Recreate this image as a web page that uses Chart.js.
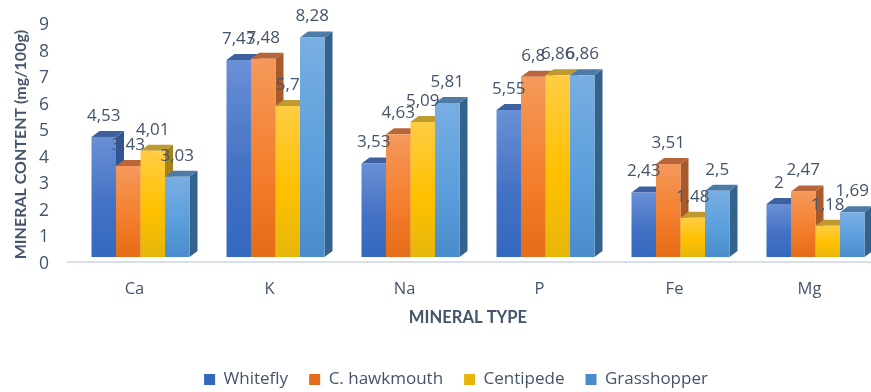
<!DOCTYPE html>
<html>
<head>
<meta charset="utf-8">
<title>Mineral content</title>
<script src="https://cdn.jsdelivr.net/npm/chart.js@4"></script>
<style>
html,body{margin:0;padding:0;background:#fff;overflow:hidden;width:871px;height:392px}
canvas{display:block}
</style>
</head>
<body>
<canvas id="c" width="883" height="392"></canvas>
<script>
const categories = ['Ca', 'K', 'Na', 'P', 'Fe', 'Mg'];
const whitefly = [4.53, 7.43, 3.53, 5.55, 2.43, 2];
const hawkmouth = [3.43, 7.48, 4.63, 6.8, 3.51, 2.47];
const centipede = [4.01, 5.7, 5.09, 6.86, 1.48, 1.18];
const grasshopper = [3.03, 8.28, 5.81, 6.86, 2.5, 1.69];
const yTitle = 'MINERAL CONTENT (mg/100g)';
const xTitle = 'MINERAL TYPE';

const TEXT = '#44546a';
const BODY_FONT = '"Open Sans", sans-serif';
const DEPTH_X = 8, DEPTH_Y = 6;

// Per-series shading: gradient stops for the front face, then the side and roof colours.
const palettes = [
  {top: '#6a90d6', mid: '#4472c4', low: '#3468bf', side: '#2f5597', roof: '#3f609f'},
  {top: '#f5995b', mid: '#f47f2e', low: '#e56c18', side: '#a85a2b', roof: '#b9653a'},
  {top: '#ffcd45', mid: '#ffc000', low: '#e6b60c', side: '#a3831a', roof: '#bf9a30'},
  {top: '#79aee2', mid: '#5b9fdc', low: '#4a8ccb', side: '#33628c', roof: '#4c7ba8'}
];

function frontFill(p) {
  return ctx => {
    if (ctx.type !== 'data') return p.mid;
    const y = ctx.chart.scales.y;
    const topPx = y.getPixelForValue(ctx.raw);
    const basePx = y.getPixelForValue(0);
    if (!Number.isFinite(topPx) || !Number.isFinite(basePx)) return p.mid;
    const g = ctx.chart.ctx.createLinearGradient(0, topPx, 0, basePx);
    g.addColorStop(0, p.top);
    g.addColorStop(0.55, p.mid);
    g.addColorStop(1, p.low);
    return g;
  };
}

// Draws each column with its side and roof, series by series so later columns overlap earlier ones.
const columns3d = {
  id: 'columns3d',
  beforeDatasetsDraw(chart) {
    const c = chart.ctx;
    const floorY = chart.scales.y.getPixelForValue(0) + 5;
    c.save();
    c.strokeStyle = '#d9dfe8';
    c.lineWidth = 2;
    c.beginPath();
    c.moveTo(67, floorY);
    c.lineTo(chart.width, floorY);
    c.stroke();
    c.restore();
    chart.data.datasets.forEach((ds, i) => {
      const p = palettes[i];
      chart.getDatasetMeta(i).data.forEach(bar => {
        const L = bar.x - bar.width / 2, R = bar.x + bar.width / 2;
        c.fillStyle = p.side;
        c.beginPath();
        c.moveTo(R, bar.y);
        c.lineTo(R + DEPTH_X, bar.y - DEPTH_Y);
        c.lineTo(R + DEPTH_X, bar.base - DEPTH_Y);
        c.lineTo(R, bar.base);
        c.closePath();
        c.fill();
        c.fillStyle = p.roof;
        c.beginPath();
        c.moveTo(L, bar.y);
        c.lineTo(L + DEPTH_X, bar.y - DEPTH_Y);
        c.lineTo(R + DEPTH_X, bar.y - DEPTH_Y);
        c.lineTo(R, bar.y);
        c.closePath();
        c.fill();
        bar.draw(c);
      });
    });
    return false;
  }
};

// Value labels and axis titles; the titles sit off the plot's centre, so they are placed here.
const overlayText = {
  id: 'overlayText',
  afterDraw(chart) {
    const c = chart.ctx;
    c.save();
    c.fillStyle = TEXT;
    c.textAlign = 'center';
    c.textBaseline = 'middle';
    c.font = '17px ' + BODY_FONT;
    chart.data.datasets.forEach((ds, i) => {
      chart.getDatasetMeta(i).data.forEach((bar, j) => {
        c.fillText(String(ds.data[j]).replace('.', ','), bar.x, bar.y - 21);
      });
    });
    c.font = 'bold 16.6px Lato, sans-serif';
    c.fillText(xTitle, 468, 318);
    c.font = 'bold 16px Lato, sans-serif';
    c.translate(21, 144.5);
    c.rotate(-Math.PI / 2);
    c.fillText(yTitle, 0, 0);
    c.restore();
  }
};

const seriesNames = ['Whitefly', 'C. hawkmouth', 'Centipede', 'Grasshopper'];
const seriesValues = [whitefly, hawkmouth, centipede, grasshopper];

new Chart(document.getElementById('c'), {
  type: 'bar',
  data: {
    labels: categories,
    datasets: seriesNames.map((name, i) => ({
      label: name,
      data: seriesValues[i],
      backgroundColor: frontFill(palettes[i]),
      borderWidth: 0,
      barPercentage: 1,
      categoryPercentage: 0.726
    }))
  },
  plugins: [columns3d, overlayText],
  options: {
    responsive: false,
    animation: false,
    layout: {padding: {left: 29, top: 18.5, right: 0, bottom: -6}},
    plugins: {
      tooltip: {enabled: false},
      legend: {
        position: 'bottom',
        labels: {
          boxWidth: 11,
          boxHeight: 11,
          padding: 21,
          color: TEXT,
          font: {family: '"Open Sans", sans-serif', size: 17}
        }
      }
    },
    scales: {
      x: {
        grid: {display: false, drawTicks: false},
        border: {display: false},
        afterFit: s => { s.height = 93; },
        ticks: {
          color: TEXT,
          font: {family: '"Open Sans", sans-serif', size: 16.5},
          labelOffset: -6,
          padding: 22,
          maxRotation: 0
        }
      },
      y: {
        min: 0,
        max: 9,
        grid: {display: false, drawTicks: false},
        border: {display: false},
        afterFit: s => { s.width = 44; s.paddingTop = 0; s.paddingBottom = 0; },
        ticks: {
          stepSize: 1,
          color: TEXT,
          font: {family: '"Open Sans", sans-serif', size: 17.5},
          labelOffset: 7,
          padding: 24
        }
      }
    }
  }
});
</script>
</body>
</html>
